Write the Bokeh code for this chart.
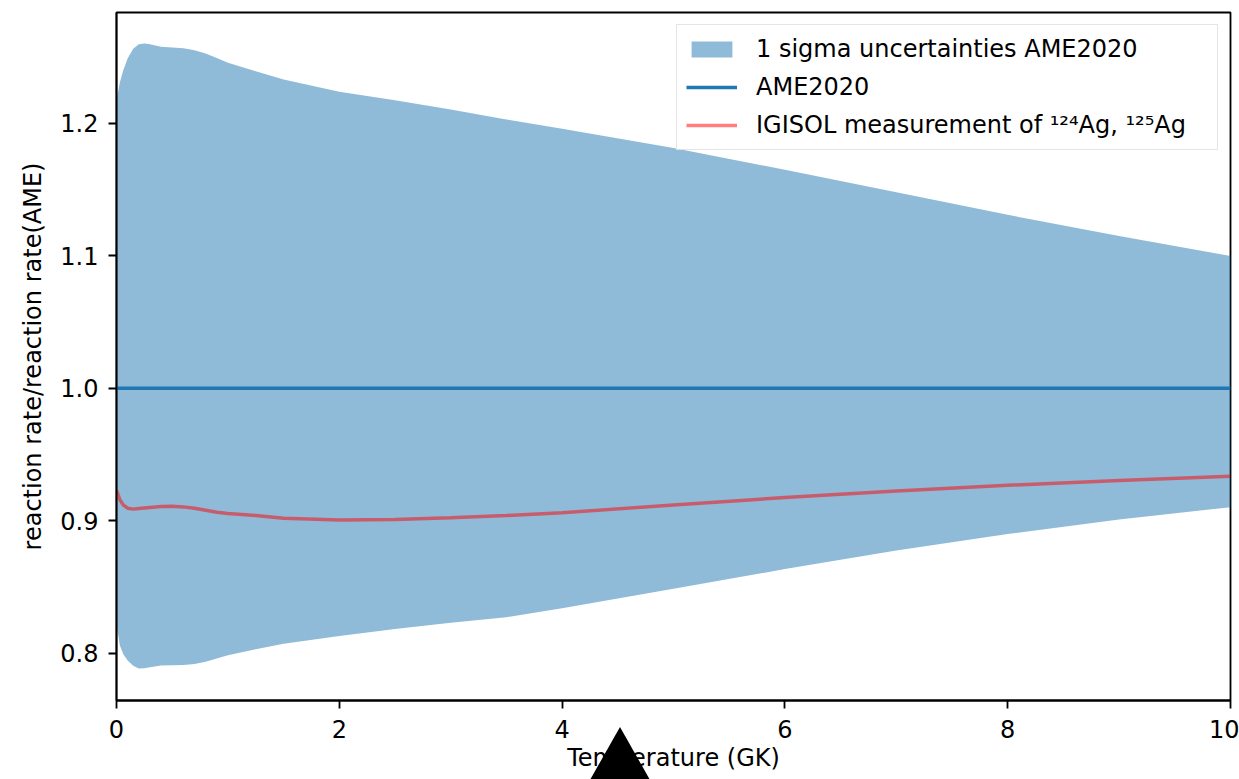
from bokeh.plotting import figure
from bokeh.models import (ColumnDataSource, FixedTicker, Range1d, Legend, LegendItem,
                          CustomJSTickFormatter, InlineStyleSheet)
from bokeh.embed import file_html
from bokeh.resources import INLINE

# Temperature grid (GK)
temperature = [0, 0.03, 0.06, 0.1, 0.15, 0.2, 0.25, 0.3, 0.4, 0.5, 0.6, 0.7, 0.8, 0.9,
               1.0, 1.25, 1.5, 2, 2.5, 3, 3.5, 4, 5, 6, 7, 8, 9, 10]
# 1 sigma band (AME2020), relative to AME rate
sigma_upper = [1.217, 1.231, 1.240, 1.249, 1.2565, 1.2598, 1.2604, 1.2598, 1.2580, 1.2574,
               1.2568, 1.2553, 1.2528, 1.2495, 1.2458, 1.2395, 1.2332, 1.2240, 1.2175,
               1.2106, 1.2030, 1.1960, 1.1815, 1.1650, 1.1480, 1.1310, 1.1150, 1.1000]
sigma_lower = [0.822, 0.806, 0.7995, 0.7945, 0.7905, 0.7884, 0.7887, 0.7895, 0.7907, 0.7910,
               0.7912, 0.7918, 0.7935, 0.7960, 0.7985, 0.8030, 0.8071, 0.8130, 0.8183,
               0.8230, 0.8272, 0.8340, 0.8486, 0.8635, 0.8775, 0.8900, 0.9010, 0.9103]
ame2020 = [1.0] * len(temperature)
igisol = [0.923, 0.916, 0.912, 0.9095, 0.9088, 0.9092, 0.9096, 0.9100, 0.9108, 0.9110,
          0.9105, 0.9095, 0.9080, 0.9065, 0.9055, 0.9040, 0.9020, 0.9005, 0.9010,
          0.9022, 0.9040, 0.9060, 0.9120, 0.9175, 0.9225, 0.9268, 0.9305, 0.9337]

x_ticks = [0, 2, 4, 6, 8, 10]
y_ticks = [0.8, 0.9, 1.0, 1.1, 1.2]

labels = ["1 sigma uncertainties AME2020", "AME2020",
          "IGISOL measurement of \u00b9\u00b2\u2074Ag, \u00b9\u00b2\u2075Ag"]

src = ColumnDataSource(dict(t=temperature, up=sigma_upper, lo=sigma_lower,
                            ame=ame2020, ig=igisol))

# black triangle seen below the axis in the reference (pure decoration, drawn with CSS)
triangle_css = InlineStyleSheet(css="""
:host::after {
  content: "";
  position: absolute;
  left: 586px;
  top: 727px;
  width: 0;
  height: 0;
  border-left: 34px solid transparent;
  border-right: 34px solid transparent;
  border-bottom: 60px solid black;
  pointer-events: none;
}
""")

FONT = "DejaVu Sans"
p = figure(width=1239, height=779, output_backend="svg", toolbar_location=None,
           x_range=Range1d(0, 10), y_range=Range1d(0.7643, 1.2838),
           min_border_left=116, min_border_right=9, min_border_top=12, min_border_bottom=79)
p.stylesheets = [triangle_css]

band = p.varea(x="t", y1="lo", y2="up", source=src, fill_color="#1f77b4", fill_alpha=0.5)
l_ame = p.line(x="t", y="ame", source=src, line_color="#1f77b4", line_width=3.5)
l_ig = p.line(x="t", y="ig", source=src, line_color="red", line_alpha=0.5, line_width=3.5)

p.grid.visible = False
p.background_fill_color = "white"
p.border_fill_color = "white"
p.outline_line_color = "black"
p.outline_line_width = 1.8
p.outline_line_alpha = 1

for ax in (p.xaxis[0], p.yaxis[0]):
    ax.axis_line_color = "black"
    ax.axis_line_width = 1.8
    ax.major_tick_line_width = 1.8
    ax.major_tick_out = 8
    ax.major_tick_in = 0
    ax.minor_tick_out = 0
    ax.minor_tick_in = 0
    ax.major_label_text_font = FONT
    ax.major_label_text_font_size = "24px"
    ax.major_label_text_color = "black"
    ax.axis_label_text_font = FONT
    ax.axis_label_text_font_size = "24px"
    ax.axis_label_text_font_style = "normal"
    ax.axis_label_text_color = "black"

p.xaxis.ticker = FixedTicker(ticks=x_ticks)
p.yaxis.ticker = FixedTicker(ticks=y_ticks)
p.yaxis.formatter = CustomJSTickFormatter(code="return tick.toFixed(1);")
p.xaxis.axis_label = "Temperature (GK)"
p.yaxis.axis_label = "reaction rate/reaction rate(AME)"
p.xaxis.major_label_standoff = 11
p.xaxis.axis_label_standoff = 3
p.yaxis.major_label_standoff = 10
p.yaxis.axis_label_standoff = 10

legend = Legend(items=[LegendItem(label=labels[0], renderers=[band]),
                       LegendItem(label=labels[1], renderers=[l_ame]),
                       LegendItem(label=labels[2], renderers=[l_ig])],
                location="top_right", margin=12, padding=9, spacing=8,
                glyph_width=51, glyph_height=20, label_height=30, label_standoff=19,
                label_width=452,
                label_text_font=FONT, label_text_font_size="24px",
                label_text_color="black",
                border_line_color="#cccccc", border_line_width=1.5,
                background_fill_alpha=0.8)
p.add_layout(legend)

open("out.html", "w").write(file_html(p, INLINE))
